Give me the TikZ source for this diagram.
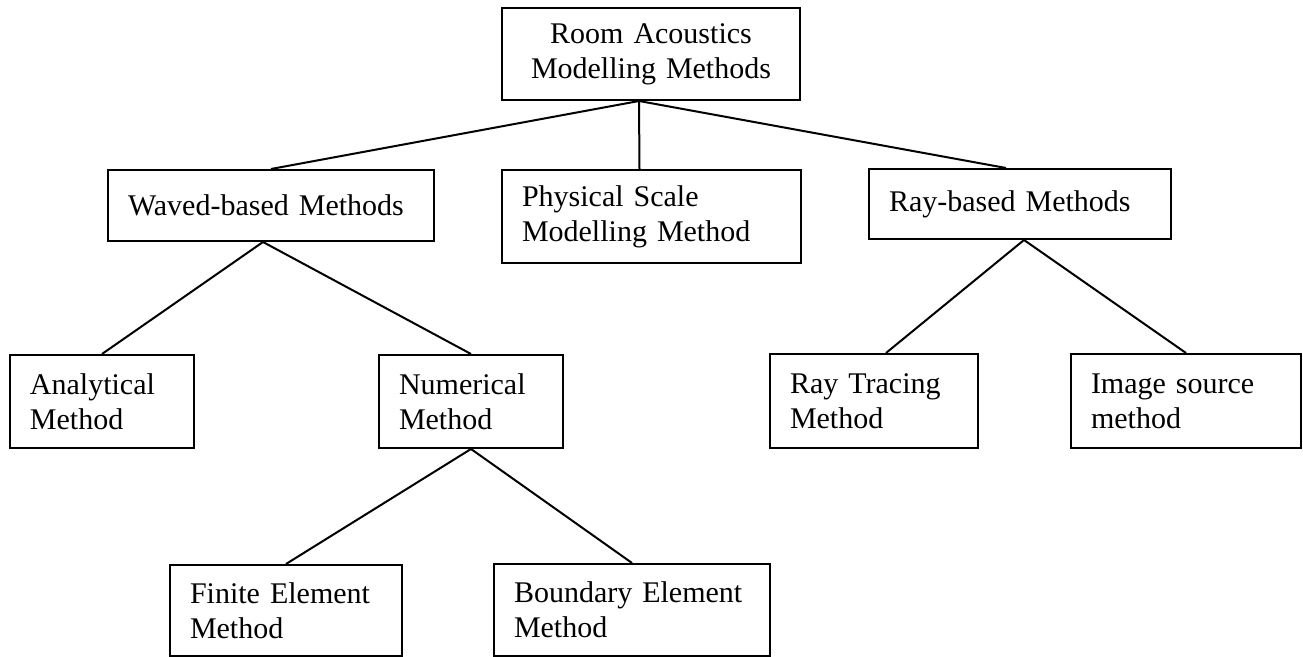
\documentclass[tikz,border=0pt]{standalone}
\usepackage{fontspec}
\setmainfont{Liberation Serif}
\usepackage{tikz}
\usetikzlibrary{positioning}

\begin{document}
\begin{tikzpicture}[x=0.5pt,y=-0.5pt,line width=1pt,
    methodbox/.style 2 args={draw,rectangle,anchor=north west,align=left,
      text width=#1,minimum height=#2,inner xsep=10pt,inner ysep=0pt,
      font=\fontsize{15pt}{17.5pt}\selectfont}]
  \useasboundingbox (0,0) rectangle (1303,657);

  \node[methodbox={129pt}{46pt},align=center] (root) at (501,7)
    {Room Acoustics\\Modelling Methods};

  \node[methodbox={143pt}{35.5pt}] (wave) at (107,169) {Waved-based Methods};
  \node[methodbox={129.5pt}{46.5pt}] (phys) at (501,169)
    {Physical Scale\\Modelling Method};
  \node[methodbox={131pt}{35pt}] (ray) at (868,168) {Ray-based Methods};

  \node[methodbox={72pt}{46.5pt}] (anal) at (9,354) {Analytical\\Method};
  \node[methodbox={72pt}{46.5pt}] (num) at (378,354) {Numerical\\Method};
  \node[methodbox={84pt}{47pt}] (trace) at (769,353) {Ray Tracing\\Method};
  \node[methodbox={95pt}{47pt}] (image) at (1070,353) {Image source\\method};

  \node[methodbox={96pt}{45.5pt}] (fem) at (169,564) {Finite Element\\Method};
  \node[methodbox={118pt}{46pt}] (bem) at (493,563) {Boundary Element\\Method};

  \draw ([xshift=-6pt]root.south) -- (wave.north);
  \draw ([xshift=-6pt]root.south) -- ([xshift=-6pt]phys.north);
  \draw ([xshift=-6pt]root.south) -- ([xshift=-7pt]ray.north);

  \draw ([xshift=-4pt]wave.south) -- (anal.north);
  \draw ([xshift=-4pt]wave.south) -- (num.north);

  \draw (num.south) -- (fem.north);
  \draw (num.south) -- (bem.north);

  \draw ([xshift=2pt]ray.south) -- ([xshift=6pt]trace.north);
  \draw ([xshift=2pt]ray.south) -- (image.north);
\end{tikzpicture}
\end{document}
